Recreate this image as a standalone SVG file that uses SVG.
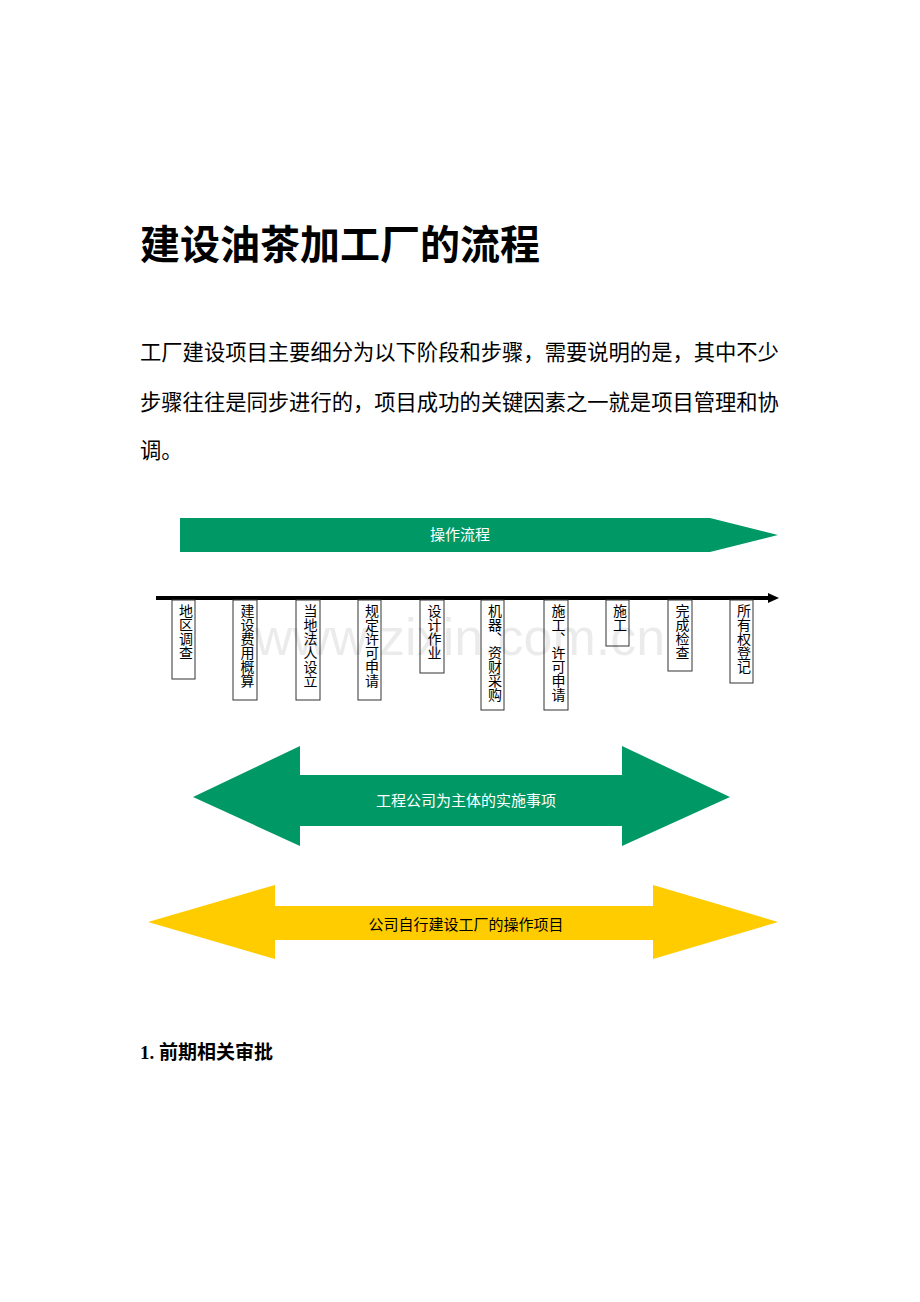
<svg xmlns="http://www.w3.org/2000/svg" width="920" height="1302" viewBox="0 0 920 1302">
<style>
.t{font-family:"Liberation Serif","Noto Sans CJK SC",serif;fill:#000}
.b rect{fill:#fff;stroke:#333;stroke-width:1}
.b text{font-family:"Noto Sans CJK SC",sans-serif;font-size:14px;fill:#000;writing-mode:tb;glyph-orientation-vertical:0}
.w{font-family:"Noto Sans CJK SC",sans-serif;fill:#fff;font-size:15px;text-anchor:middle}
</style>
<rect width="920" height="1302" fill="#fff"/>
<text class="t" x="140" y="259" font-size="40" font-weight="bold">建设油茶加工厂的流程</text>
<text class="t" x="140" y="360" font-size="21.3">工厂建设项目主要细分为以下阶段和步骤，需要说明的是，其中不少</text>
<text class="t" x="140" y="410" font-size="21.3">步骤往往是同步进行的，项目成功的关键因素之一就是项目管理和协</text>
<text class="t" x="140" y="458" font-size="21.3">调。</text>
<g id="flow"><polygon points="180,518 710,518 778,535 710,552 180,552" fill="#009966"/><text class="w" x="460" y="540">操作流程</text></g>
<g id="connectors"><line x1="156" y1="598" x2="770" y2="598" stroke="#000" stroke-width="4"/><polygon points="768,593 779,598 768,603" fill="#000"/></g>
<g class="b">
<g id="n1"><rect x="172" y="600" width="23" height="79"/><text x="186" y="604">地区调查</text></g>
<g id="n2"><rect x="233" y="600" width="24" height="100"/><text x="247.5" y="604">建设费用概算</text></g>
<g id="n3"><rect x="296" y="600" width="24" height="100"/><text x="310.5" y="604">当地法人设立</text></g>
<g id="n4"><rect x="358" y="600" width="23" height="100"/><text x="372" y="604">规定许可申请</text></g>
<g id="n5"><rect x="420" y="600" width="24" height="73"/><text x="434.5" y="604">设计作业</text></g>
<g id="n6"><rect x="481" y="600" width="23" height="110"/><text x="495" y="604">机器、资财采购</text></g>
<g id="n7"><rect x="544" y="600" width="24" height="110"/><text x="558.5" y="604">施工、许可申请</text></g>
<g id="n8"><rect x="606" y="600" width="23" height="46"/><text x="620" y="604">施工</text></g>
<g id="n9"><rect x="668" y="600" width="24" height="71"/><text x="682.5" y="604">完成检查</text></g>
<g id="n10"><rect x="730" y="600" width="23" height="83"/><text x="744" y="604">所有权登记</text></g>
</g>
<text x="460" y="655" font-family="Liberation Sans,sans-serif" font-size="52" fill="#000" fill-opacity="0.08" text-anchor="middle">www.zixin.com.cn</text>
<g id="green"><polygon points="193,797 300,746 300,775 622,775 622,746 730,797 622,846 622,826 300,826 300,846" fill="#009966"/><text class="w" x="466" y="806">工程公司为主体的实施事项</text></g>
<g id="yellow"><polygon points="148,922 275,885 275,906 653,906 653,885 778,922 653,959 653,940 275,940 275,959" fill="#ffcc00"/><text class="w" x="466" y="930" style="fill:#000">公司自行建设工厂的操作项目</text></g>
<text class="t" x="140" y="1059" font-size="19" font-weight="bold">1. 前期相关审批</text>
</svg>
